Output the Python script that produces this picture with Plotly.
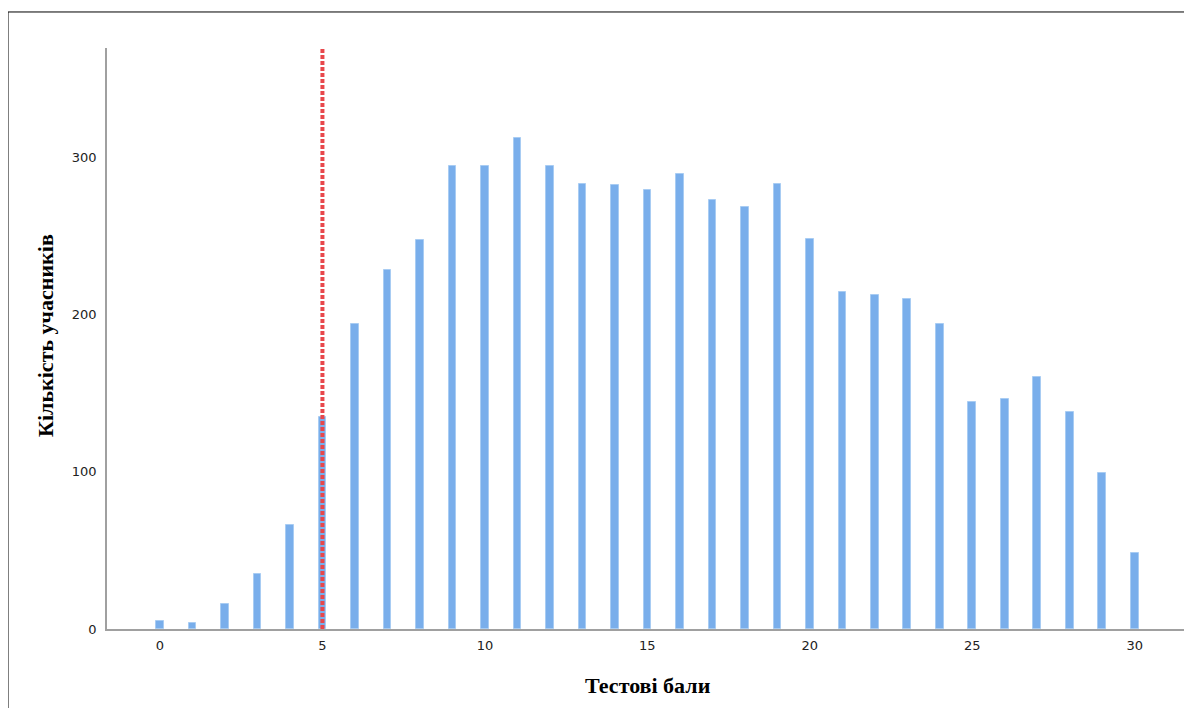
import plotly.graph_objects as go

scores = list(range(0, 31))
counts = [5, 4, 16, 35, 66, 135, 194, 228, 247, 294, 294, 312, 294, 283, 282, 279,
          289, 273, 268, 283, 248, 214, 212, 210, 194, 144, 146, 160, 138, 99, 48]
threshold = 5
x_title = "Тестові бали"
y_title = "Кількість учасників"
y_ticks = [0, 100, 200, 300]
x_ticks = [0, 5, 10, 15, 20, 25, 30]

fig = go.Figure()
fig.add_trace(go.Bar(
    x=scores, y=counts, width=0.235,
    marker=dict(color="#79AEEB", line=dict(color="#A8CCF3", width=1)),
    showlegend=False, hoverinfo="x+y",
))
fig.add_trace(go.Scatter(
    x=[threshold, threshold], y=[0, 370], mode="lines",
    line=dict(color="#E8474B", width=4, dash="4px,2px"),
    showlegend=False,
))

fig.update_layout(
    width=1184, height=700,
    margin=dict(l=99, r=2, t=40, b=79),
    paper_bgcolor="white", plot_bgcolor="white",
    bargap=0,
    xaxis=dict(range=[-1.63, 31.7], tickvals=x_ticks, showgrid=False, zeroline=False,
               showline=True, linecolor="#A0A0A0", linewidth=1.5,
               ticks="outside", ticklen=4, tickcolor="rgba(0,0,0,0)",
               tickfont=dict(family="DejaVu Sans", size=13, color="#222222")),
    yaxis=dict(range=[0, 369.3], tickvals=y_ticks, showgrid=False, zeroline=False,
               showline=True, linecolor="#A0A0A0", linewidth=1.5,
               ticks="outside", ticklen=6, tickcolor="rgba(0,0,0,0)",
               tickfont=dict(family="DejaVu Sans", size=13, color="#222222")),
    annotations=[
        dict(text=f"<b>{x_title}</b>", xref="paper", yref="paper", x=0.4995, y=-0.098,
             showarrow=False, font=dict(family="Liberation Serif", size=22, color="black"),
             xanchor="center", yanchor="middle"),
        dict(text=f"<b>{y_title}</b>", xref="paper", yref="paper", x=-0.0573, y=0.506,
             showarrow=False, textangle=-90,
             font=dict(family="Liberation Serif", size=22, color="black"),
             xanchor="center", yanchor="middle"),
    ],
    shapes=[dict(type="rect", xref="paper", yref="paper",
                 x0=-0.0914, x1=1.05, y0=-0.2, y1=1.062,
                 line=dict(color="black", width=1), fillcolor="rgba(0,0,0,0)", layer="below")],
)

fig.write_html("out.html")
